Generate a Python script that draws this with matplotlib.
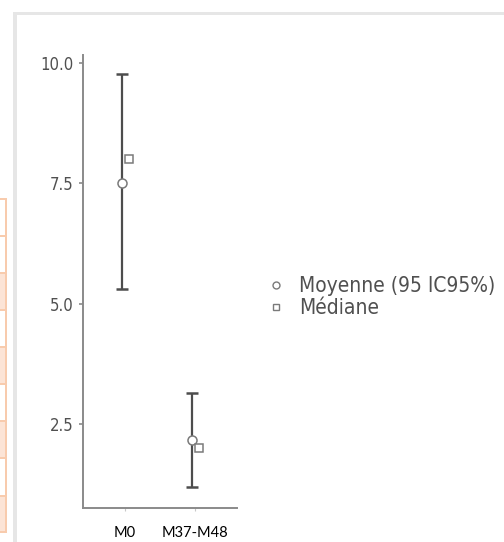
import matplotlib
matplotlib.use("Agg")
import matplotlib.pyplot as plt
from matplotlib.lines import Line2D
from matplotlib.patches import Rectangle

# values
periods = ["M0", "M37-M48"]
means = [7.5, 2.17]
ci_low = [5.3, 1.19]
ci_high = [9.77, 3.14]
medians = [8.0, 2.0]
y_ticks = [2.5, 5.0, 7.5, 10.0]

# leftover bits of the page the chart was cut from
table_rows = [199, 236, 273, 310, 347, 384, 421, 458, 496, 532]
table_filled = [False, False, True, False, True, False, True, False, True]

GRID_GREY = "#e6e6e6"
TEXT_GREY = "#505050"
SPINE_GREY = "#8a8a8a"
BAR_GREY = "#4d4d4d"
MARK_GREY = "#7a7a7a"
COND = dict(family=["DejaVu Sans"], stretch="condensed")

W, H = 504, 542
fig = plt.figure(figsize=(W / 100, H / 100), dpi=100)


def px_rect(x0, y0, x1, y1, **kw):
    fig.patches.append(Rectangle((x0 / W, 1 - y1 / H), (x1 - x0) / W, (y1 - y0) / H,
                                 transform=fig.transFigure, **kw))


# grey frame of the screenshot
px_rect(13, 12, W, 15, color=GRID_GREY, lw=0)
px_rect(13, 12, 17, H, color=GRID_GREY, lw=0)

# orange table fragment on the far left
for i, filled in enumerate(table_filled):
    if filled:
        px_rect(0, table_rows[i], 6, table_rows[i + 1], color="#fce4d6", lw=0)
for y in table_rows:
    px_rect(0, y - 1, 7, y + 1, color="#f8cbad", lw=0)
px_rect(5, table_rows[0] - 1, 7, table_rows[-1] + 1, color="#f8cbad", lw=0)

ax = fig.add_axes([83 / W, 1 - 508 / H, (237 - 83) / W, (508 - 55) / H])
x = list(range(len(periods)))
x_mean = [i - 0.045 for i in x]
x_med = [i + 0.055 for i in x]

yerr = [[m - lo for m, lo in zip(means, ci_low)], [hi - m for m, hi in zip(means, ci_high)]]
ax.errorbar(x_mean, means, yerr=yerr, fmt="none", ecolor=BAR_GREY, elinewidth=1.6,
            capsize=4, capthick=1.8, zorder=2)
ax.plot(x_mean, means, "o", ms=6.5, mfc="white", mec=MARK_GREY, mew=1.1, ls="none", zorder=3)
ax.plot(x_med, medians, "s", ms=5.5, mfc="white", mec=MARK_GREY, mew=1.1, ls="none", zorder=3)

ax.set_xlim(-0.6, 1.6)
ax.set_ylim(0.75, 10.17)
ax.set_yticks(y_ticks)
ax.set_yticklabels([f"{v:.1f}" for v in y_ticks], color=TEXT_GREY, fontsize=12, **COND)
ax.set_xticks(x)
ax.set_xticklabels(periods, color="black", fontsize=10.5, family="Lato")
ax.tick_params(axis="y", length=3, width=1.2, color=SPINE_GREY, pad=4)
ax.tick_params(axis="x", length=2, width=0.8, color="#c8c8c8", pad=11)

for side in ("top", "right"):
    ax.spines[side].set_visible(False)
for side in ("left", "bottom"):
    ax.spines[side].set_color(SPINE_GREY)
    ax.spines[side].set_linewidth(1.4)

handles = [
    Line2D([], [], marker="o", ls="none", ms=5, mfc="white", mec=MARK_GREY, mew=1),
    Line2D([], [], marker="s", ls="none", ms=4.5, mfc="white", mec=MARK_GREY, mew=1),
]
leg = fig.legend(handles, ["Moyenne (95 IC95%)", "Médiane"], loc="center left",
                 bbox_to_anchor=(247 / W, 1 - 297 / H), frameon=False,
                 prop=dict(size=15, **COND), labelcolor=TEXT_GREY,
                 handlelength=1.0, handletextpad=0.6, labelspacing=0.1)

fig.savefig("out.png", dpi=100)
